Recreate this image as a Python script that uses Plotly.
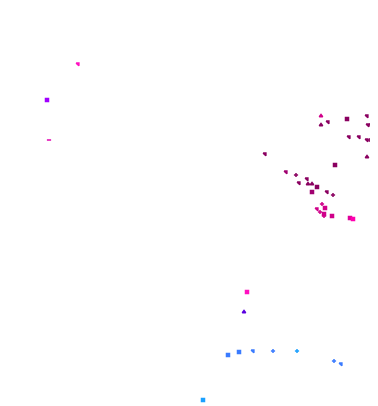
import plotly.graph_objects as go

x_vals = [321, 321, 328, 347, 367, 373, 368, 371, 373, 375, 349, 359, 367, 370, 374, 367, 335,
          265, 286, 296, 307, 299, 308, 312, 317, 312, 327, 333,
          322, 325, 317, 320, 324, 324, 332, 350, 353,
          247, 244, 228, 239, 253, 273, 297, 334, 341, 203,
          78, 47, 49]
y_vals = [116, 125, 122, 119, 116, 120, 125, 125, 124, 129, 137, 137, 140, 140, 140, 157, 165,
          154, 172, 175, 179, 183, 184, 184, 187, 192, 192, 195,
          204, 208, 209, 212, 214, 216, 216, 218, 219,
          292, 312, 355, 352, 351, 351, 351, 361, 364, 400,
          64, 100, 140]
symbols = ["triangle-up", "triangle-up", "triangle-ne", "square", "triangle-ne", "cross-thin", "triangle-ne", "triangle-ne", "cross-thin", "square",
           "triangle-ne", "triangle-ne", "triangle-ne", "cross-thin", "triangle-ne", "triangle-up", "square",
           "triangle-ne", "triangle-ne", "cross-thin", "triangle-ne", "triangle-ne", "triangle-up", "triangle-up", "square", "square", "triangle-ne", "cross-thin",
           "cross-thin", "square", "triangle-ne", "cross-thin", "square", "cross-thin", "square", "square", "square",
           "square", "triangle-up", "square", "square", "triangle-ne", "cross-thin", "cross-thin", "cross-thin", "triangle-ne", "square",
           "triangle-ne", "square", "line-ew"]
colors = ["#d0008a", "#8a0060", "#8a0060", "#8a0060", "#8a0060", "#8a0060", "#8a0060", "#8a0060", "#8a0060", "#8a0060",
          "#8a0060", "#8a0060", "#8a0060", "#8a0060", "#8a0060", "#8a0060", "#8a0060",
          "#8a0060", "#a00070", "#8a0060", "#8a0060", "#8a0060", "#8a0060", "#8a0060", "#8a0060", "#a00070", "#8a0060", "#8a0060",
          "#d0008a", "#d0008a", "#d0008a", "#d0008a", "#d0008a", "#d0008a", "#d0008a", "#e0009a", "#ff00b0",
          "#ff10c0", "#5a00e0", "#3a7bff", "#3a7bff", "#3a7bff", "#3a7bff", "#1aa0ff", "#3a7bff", "#3a7bff", "#1aa0ff",
          "#ff10c0", "#a000ff", "#e000b0"]

fig = go.Figure(go.Scatter(
    x=x_vals, y=y_vals, mode="markers",
    marker=dict(size=3, color=colors, symbol=symbols, opacity=1,
                line=dict(width=1.5, color=colors)),
    hoverinfo="skip",
))
fig.update_layout(
    width=370, height=398,
    margin=dict(l=0, r=0, t=0, b=0),
    paper_bgcolor="white", plot_bgcolor="white",
    showlegend=False,
    xaxis=dict(range=[8, 378], visible=False, fixedrange=True),
    yaxis=dict(range=[406, 8], visible=False, fixedrange=True),
)
fig.write_html("out.html", config={"displayModeBar": False})
